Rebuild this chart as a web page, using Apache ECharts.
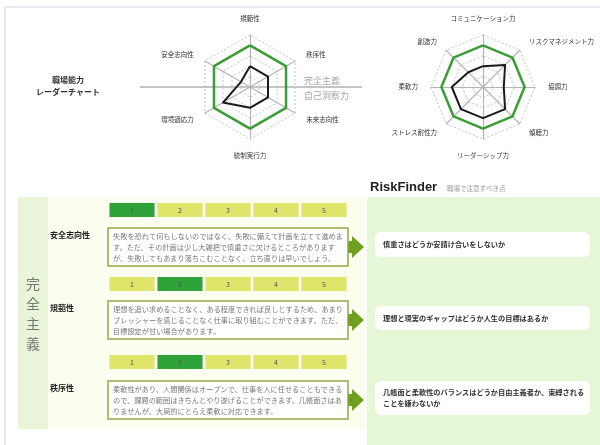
<!DOCTYPE html>
<html>
<head>
<meta charset="utf-8">
<script src="https://cdn.jsdelivr.net/npm/echarts@6/dist/echarts.min.js"></script>
<style>
  html, body { margin: 0; padding: 0; background: #fff; }
  #main { width: 600px; height: 445px; }
</style>
</head>
<body>
<div id="main"></div>
<script>
// レーダー1 (反時計回り: 上から)
const skillAxes = ['規範性', '安全志向性', '環境適応力', '統制実行力', '未来志向性', '秩序性'];
const skillValues = [2, 1, 3, 2, 2, 2];
// レーダー2
const workAxes = ['コミュニケーション力', '創造力', '柔軟力', 'ストレス耐性力', 'リーダーシップ力', '傾聴力', '協調力', 'リスクマネジメント力'];
const workValues = [2, 2, 3, 3, 3, 3, 2, 3];
const baseLevel = 4;
const maxLevel = 5;

// 評価
const scaleLevels = ['1', '2', '3', '4', '5'];
const traitNames = ['安全志向性', '規範性', '秩序性'];
const traitScores = [1, 2, 2];
const traitTexts = [
  ['失敗を恐れて何もしないのではなく、失敗に備えて計画を立てて進めま',
   'す。ただ、その計画は少し大雑把で慎重さに欠けるところがあります',
   'が、失敗してもあまり落ちこむことなく、立ち直りは早いでしょう。'],
  ['理想を追い求めることなく、ある程度できれば良しとするため、あまり',
   'プレッシャーを感じることなく仕事に取り組むことができます。ただ、',
   '目標設定が甘い場合があります。'],
  ['柔軟性があり、人間関係はオープンで、仕事を人に任せることもできる',
   'ので、課題の範囲はきちんとやり遂げることができます。几帳面さはあ',
   'りませんが、大局的にとらえ柔軟に対応できます。']
];
const riskPoints = [
  ['慎重さはどうか安請け合いをしないか'],
  ['理想と現実のギャップはどうか人生の目標はあるか'],
  ['几帳面と柔軟性のバランスはどうか自由主義者か、束縛される', 'ことを嫌わないか']
];

const FONT = '"Noto Sans CJK JP", "Noto Sans", sans-serif';
const GREEN = '#3a9d35';

var myChart = echarts.init(document.getElementById('main'));

// 行のレイアウト
const barTops = [203, 277, 355];
const boxTops = [228, 301, 381];
const riskTops = [232, 306, 381];
const riskHeights = [25, 24, 34];

function radarConf(names, cx) {
  return {
    center: [cx, 87],
    radius: 52,
    startAngle: 90,
    splitNumber: 5,
    shape: 'polygon',
    nameGap: 13,
    indicator: names.map(n => ({ name: n, max: maxLevel, min: 0 })),
    axisName: { color: '#333', fontSize: 6.5, fontFamily: FONT },
    axisLine: { lineStyle: { color: '#b5b5b5', width: 1.2 } },
    splitLine: { lineStyle: { color: '#c4c4c4', type: [2, 2], width: 1 } },
    splitArea: { show: false }
  };
}

let grids = [], xAxes = [], yAxes = [], series = [];
traitScores.forEach((score, i) => {
  grids.push({ left: 108, top: barTops[i], width: 240, height: 14 });
  xAxes.push({ type: 'category', gridIndex: i, data: scaleLevels, show: false });
  yAxes.push({ type: 'value', gridIndex: i, min: 0, max: 1, show: false });
  series.push({
    type: 'bar', xAxisIndex: i, yAxisIndex: i, barCategoryGap: '6%',
    silent: true,
    data: scaleLevels.map((lv, k) => ({
      value: 1,
      itemStyle: { color: (k + 1) === score ? '#2fa33a' : '#dfe46a' }
    })),
    label: { show: true, position: 'inside', formatter: p => p.name, color: '#555', fontSize: 7, fontFamily: FONT }
  });
});

series.push({
  type: 'radar', radarIndex: 0, symbol: 'none',
  data: [
    { value: skillAxes.map(() => baseLevel), lineStyle: { color: GREEN, width: 2.5 } },
    { value: skillValues, lineStyle: { color: '#1a1a1a', width: 2 } }
  ]
});
series.push({
  type: 'radar', radarIndex: 1, symbol: 'none',
  data: [
    { value: workAxes.map(() => baseLevel), lineStyle: { color: GREEN, width: 2.5 } },
    { value: workValues, lineStyle: { color: '#1a1a1a', width: 2 } }
  ]
});

// 装飾
let graphics = [
  { type: 'rect', shape: { x: 5, y: 7, width: 600, height: 440 }, style: { fill: 'none', stroke: '#c9d3de', lineWidth: 1 }, z: 0 },
  { type: 'line', shape: { x1: 140, y1: 87, x2: 362, y2: 87 }, style: { stroke: '#8a8a8a', lineWidth: 1 }, z: 0 },
  { type: 'text', style: { text: '完全主義', x: 304, y: 81, fill: '#a8a8a8', fontSize: 9, fontFamily: FONT, textVerticalAlign: 'middle' } },
  { type: 'text', style: { text: '自己洞察力', x: 304, y: 96, fill: '#a8a8a8', fontSize: 9, fontFamily: FONT, textVerticalAlign: 'middle' } },
  { type: 'text', style: { text: '職場能力\nレーダーチャート', x: 68, y: 86, fill: '#333', fontSize: 8, fontWeight: 'bold', lineHeight: 12, fontFamily: FONT, textAlign: 'center', textVerticalAlign: 'middle' } },
  { type: 'text', style: { text: 'RiskFinder', x: 370, y: 187, fill: '#222', fontSize: 13, fontWeight: 'bold', fontFamily: '"Liberation Sans", sans-serif', textVerticalAlign: 'middle' } },
  { type: 'text', style: { text: '職場で注意すべき点', x: 447, y: 189, fill: '#9a9a9a', fontSize: 6.5, fontFamily: FONT, textVerticalAlign: 'middle' } },
  // パネル
  { type: 'rect', shape: { x: 18, y: 197, width: 348, height: 232 }, style: { fill: '#e9f5d9' }, z: -2 },
  { type: 'rect', shape: { x: 48, y: 197, width: 318, height: 232 }, style: { fill: '#fbfdef' }, z: -1 },
  { type: 'rect', shape: { x: 367, y: 197, width: 233, height: 248 }, style: { fill: '#e6f7d8' }, z: -2 },
  { type: 'text', style: { text: '完\n全\n主\n義', x: 33, y: 314, fill: '#777', fontSize: 14, lineHeight: 20, fontFamily: FONT, textAlign: 'center', textVerticalAlign: 'middle' } }
];

traitNames.forEach((name, i) => {
  const top = boxTops[i];
  const c = top + 19;
  graphics.push({ type: 'text', style: { text: name, x: 50, y: top + 7, fill: '#222', fontSize: 8, fontWeight: 'bold', fontFamily: FONT, textVerticalAlign: 'middle' } });
  graphics.push({ type: 'polygon', shape: { points: [[346, c - 6], [352, c - 6], [352, c - 11], [364, c], [352, c + 11], [352, c + 6], [346, c + 6]] }, style: { fill: '#6f9f1f' }, z: 1 });
  graphics.push({ type: 'rect', shape: { x: 108, y: top, width: 240, height: 38 }, style: { fill: '#fff', stroke: '#96a845', lineWidth: 1.5 }, z: 2 });
  graphics.push({ type: 'text', style: { text: traitTexts[i].join('\n'), x: 113, y: top + 3, fill: '#7a7a7a', fontSize: 7.2, lineHeight: 11, fontFamily: FONT, textVerticalAlign: 'top' }, z: 3 });

  graphics.push({ type: 'rect', shape: { x: 375, y: riskTops[i], width: 215, height: riskHeights[i], r: 6 }, style: { fill: '#fff' }, z: 1 });
  graphics.push({ type: 'text', style: { text: riskPoints[i].join('\n'), x: 383, y: riskTops[i] + riskHeights[i] / 2, fill: '#333', fontSize: 7.2, fontWeight: 'bold', lineHeight: 11, fontFamily: FONT, textVerticalAlign: 'middle' }, z: 2 });
});

var option = {
  backgroundColor: '#fff',
  animation: false,
  textStyle: { fontFamily: FONT },
  radar: [radarConf(skillAxes, 250), radarConf(workAxes, 483)],
  grid: grids,
  xAxis: xAxes,
  yAxis: yAxes,
  series: series,
  graphic: graphics
};
myChart.setOption(option);
</script>
</body>
</html>
